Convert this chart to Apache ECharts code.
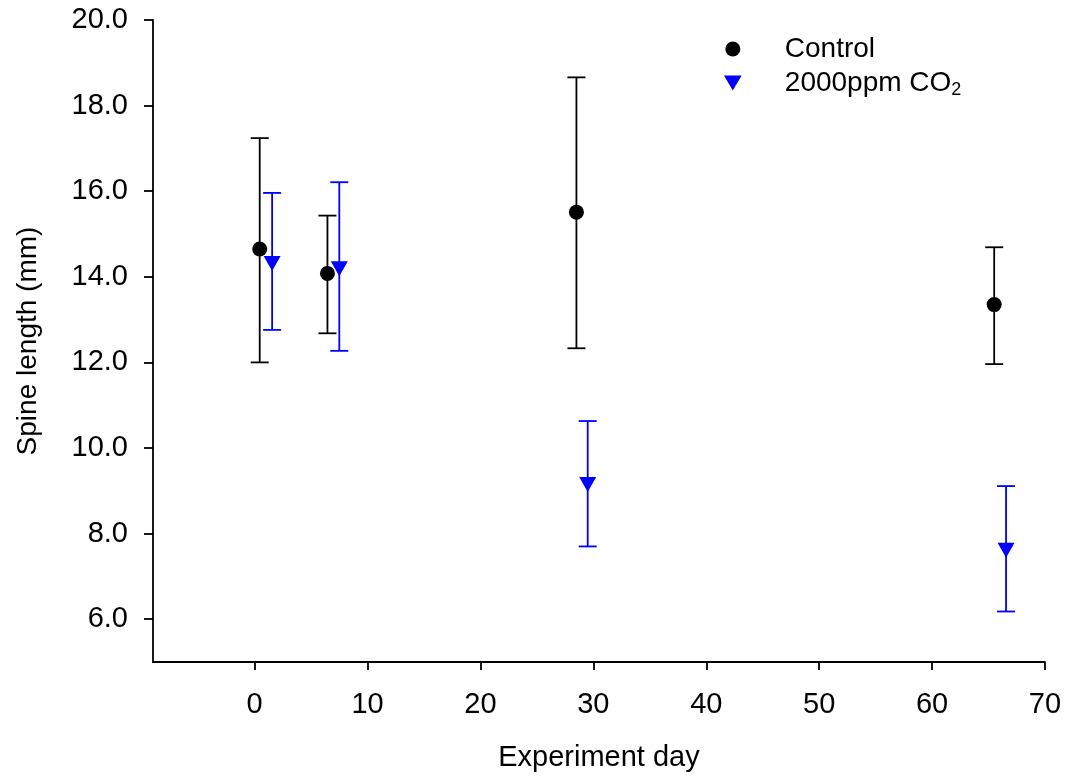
<!DOCTYPE html>
<html>
<head>
<meta charset="utf-8">
<script src="https://cdn.jsdelivr.net/npm/echarts@6/dist/echarts.min.js"></script>
<style>
html,body{margin:0;padding:0;background:#fff;}
#chart{width:1066px;height:780px;}
</style>
</head>
<body>
<div id="chart"></div>
<script>
// ---- data ----
const seriesNames = ['Control', '2000ppm CO2'];
const controlDays = [0.45, 6.45, 28.5, 65.5];
const controlMean = [14.65, 14.08, 15.51, 13.35];
const controlLow  = [12.00, 12.68, 12.33, 11.96];
const controlHigh = [17.24, 15.43, 18.66, 14.69];
const co2Days = [1.55, 7.5, 29.5, 66.55];
const co2Mean = [14.31, 14.19, 9.15, 7.61];
const co2Low  = [12.76, 12.27, 7.70, 6.18];
const co2High = [15.96, 16.21, 10.63, 9.11];
const xTicks = [0, 10, 20, 30, 40, 50, 60, 70];
const yTicks = [6, 8, 10, 12, 14, 16, 18, 20];

const FONT = "'Liberation Sans', Arial, sans-serif";
const triDown = 'path://M0,0 L20,0 L10,17 Z';

function points(days, mean) { return days.map((d, i) => [d, mean[i]]); }
function bars(days, low, high) { return days.map((d, i) => [d, low[i], high[i]]); }

function errorBarRenderer(color) {
  return function (params, api) {
    const x = api.value(0);
    const lo = api.coord([x, api.value(1)]);
    const hi = api.coord([x, api.value(2)]);
    const hw = 9;
    const style = { stroke: color, lineWidth: 1.8, fill: null };
    return {
      type: 'group',
      children: [
        { type: 'line', shape: { x1: lo[0], y1: lo[1], x2: hi[0], y2: hi[1] }, style },
        { type: 'line', shape: { x1: lo[0] - hw, y1: lo[1], x2: lo[0] + hw, y2: lo[1] }, style },
        { type: 'line', shape: { x1: hi[0] - hw, y1: hi[1], x2: hi[0] + hw, y2: hi[1] }, style }
      ]
    };
  };
}

const chart = echarts.init(document.getElementById('chart'), null, { renderer: 'canvas' });
const axisCommon = {
  axisLine: { show: true, onZero: false, lineStyle: { color: '#000', width: 1.8 } },
  axisTick: { show: true, inside: false, lineStyle: { color: '#000', width: 1.8 } },
  splitLine: { show: false },
  nameLocation: 'middle'
};

chart.setOption({
  animation: false,
  backgroundColor: '#fff',
  textStyle: { fontFamily: FONT },
  grid: { left: 153, right: 21, top: 20, bottom: 118, containLabel: false },
  legend: {
    orient: 'vertical',
    left: 719,
    top: 30,
    itemGap: 4,
    itemWidth: 94,
    itemHeight: 15,
    selectedMode: false,
    data: [
      { name: seriesNames[0], icon: 'circle' },
      { name: seriesNames[1], icon: triDown }
    ],
    formatter: function (name) {
      if (name === seriesNames[1]) return '{t|2000ppm CO}{sub|2}';
      return '{t|' + name + '}';
    },
    textStyle: {
      color: '#000', fontSize: 28, fontFamily: FONT,
      rich: {
        t: { fontSize: 28, fontFamily: FONT, color: '#000', lineHeight: 30 },
        sub: { fontSize: 18, fontFamily: FONT, color: '#000', lineHeight: 30, padding: [14, 0, 0, 0] }
      }
    }
  },
  xAxis: Object.assign({}, axisCommon, {
    type: 'value',
    min: -9,
    max: 70,
    name: 'Experiment day',
    nameGap: 81,
    nameTextStyle: { color: '#000', fontSize: 29, fontFamily: FONT },
    axisTick: Object.assign({}, axisCommon.axisTick, { length: 8, customValues: xTicks }),
    axisLabel: { customValues: xTicks, color: '#000', fontSize: 29, fontFamily: FONT, margin: 28 }
  }),
  yAxis: Object.assign({}, axisCommon, {
    type: 'value',
    min: 5,
    max: 20,
    name: 'Spine length (mm)',
    nameGap: 111,
    nameTextStyle: { color: '#000', fontSize: 28, fontFamily: FONT },
    axisTick: Object.assign({}, axisCommon.axisTick, { length: 9, customValues: yTicks }),
    axisLabel: {
      customValues: yTicks, color: '#000', fontSize: 29, fontFamily: FONT, margin: 25,
      formatter: v => v.toFixed(1)
    }
  }),
  series: [
    {
      name: seriesNames[0] + ' error', type: 'custom', z: 2,
      renderItem: errorBarRenderer('#000000'),
      encode: { x: 0, y: [1, 2] },
      data: bars(controlDays, controlLow, controlHigh)
    },
    {
      name: seriesNames[1] + ' error', type: 'custom', z: 2,
      renderItem: errorBarRenderer('#0000ff'),
      encode: { x: 0, y: [1, 2] },
      data: bars(co2Days, co2Low, co2High)
    },
    {
      name: seriesNames[0], type: 'scatter', z: 3,
      symbol: 'circle', symbolSize: 15,
      itemStyle: { color: '#000000', opacity: 1 },
      data: points(controlDays, controlMean)
    },
    {
      name: seriesNames[1], type: 'scatter', z: 3,
      symbol: triDown, symbolSize: [17, 15],
      itemStyle: { color: '#0000ff', opacity: 1 },
      data: points(co2Days, co2Mean)
    }
  ]
});
</script>
</body>
</html>
